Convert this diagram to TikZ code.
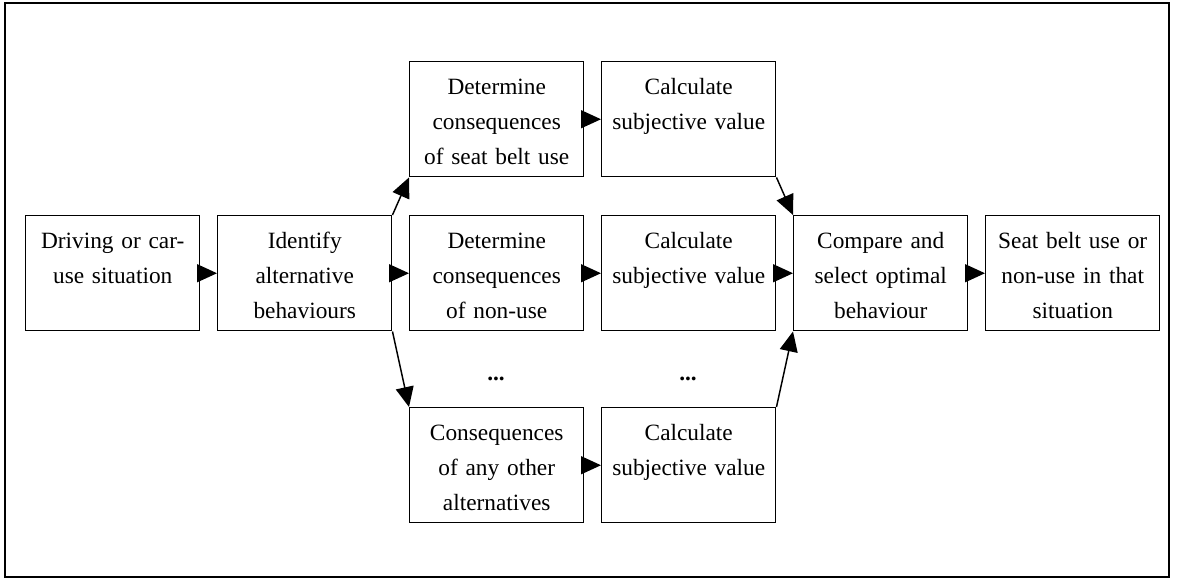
\documentclass[tikz,border=0pt]{standalone}
\usepackage{fontspec}
\setmainfont{Liberation Serif}
\usetikzlibrary{arrows.meta}

\begin{document}
\begin{tikzpicture}[x=0.75pt,y=-0.75pt,
  stepbox/.style={draw, line width=1.1pt, inner sep=0pt, anchor=north west,
    text width=130.5pt, align=center,
    text height=24.75pt, text depth=61.5pt,
    font=\fontsize{17.5}{26}\selectfont},
  flow/.style={line width=1.1pt, -{Triangle[length=15pt,width=13.5pt]}},
  gap/.style={font=\fontsize{17.5}{26}\selectfont\bfseries, inner sep=0pt, anchor=base}]

\useasboundingbox (0,0) rectangle (1177,579);
% outer frame
\draw[line width=1.4pt] (5,3) rectangle (1169,577);

% main chain
\node[stepbox] (drive) at (25,215)  {Driving or car-\\use situation};
\node[stepbox] (ident) at (217,215) {Identify\\alternative\\behaviours};

% consequences of each alternative
\node[stepbox] (det1) at (409,61)  {Determine\\consequences\\of seat belt use};
\node[stepbox] (det2) at (409,215) {Determine\\consequences\\of non-use};
\node[stepbox] (det3) at (409,407) {Consequences\\of any other\\alternatives};

% subjective values
\node[stepbox] (calc1) at (601,61)  {Calculate\\subjective value};
\node[stepbox] (calc2) at (601,215) {Calculate\\subjective value};
\node[stepbox] (calc3) at (601,407) {Calculate\\subjective value};

% ellipses between the listed alternatives
\node[gap] (dots1) at (496,380) {...};
\node[gap] (dots2) at (688,380) {...};

% choice and outcome
\node[stepbox] (comp) at (793,215) {Compare and\\select optimal\\behaviour};
\node[stepbox] (outc) at (985,215) {Seat belt use or\\non-use in that\\situation};

% connectors
\draw[flow] (drive.east) -- (ident.west);
\draw[flow] (ident.north east) -- (det1.south west);
\draw[flow] (ident.east) -- (det2.west);
\draw[flow] (ident.south east) -- (det3.north west);
\draw[flow] (det1.east) -- (calc1.west);
\draw[flow] (det2.east) -- (calc2.west);
\draw[flow] (det3.east) -- (calc3.west);
\draw[flow] (calc1.south east) -- (comp.north west);
\draw[flow] (calc2.east) -- (comp.west);
\draw[flow] (calc3.north east) -- (comp.south west);
\draw[flow] (comp.east) -- (outc.west);
\end{tikzpicture}
\end{document}
